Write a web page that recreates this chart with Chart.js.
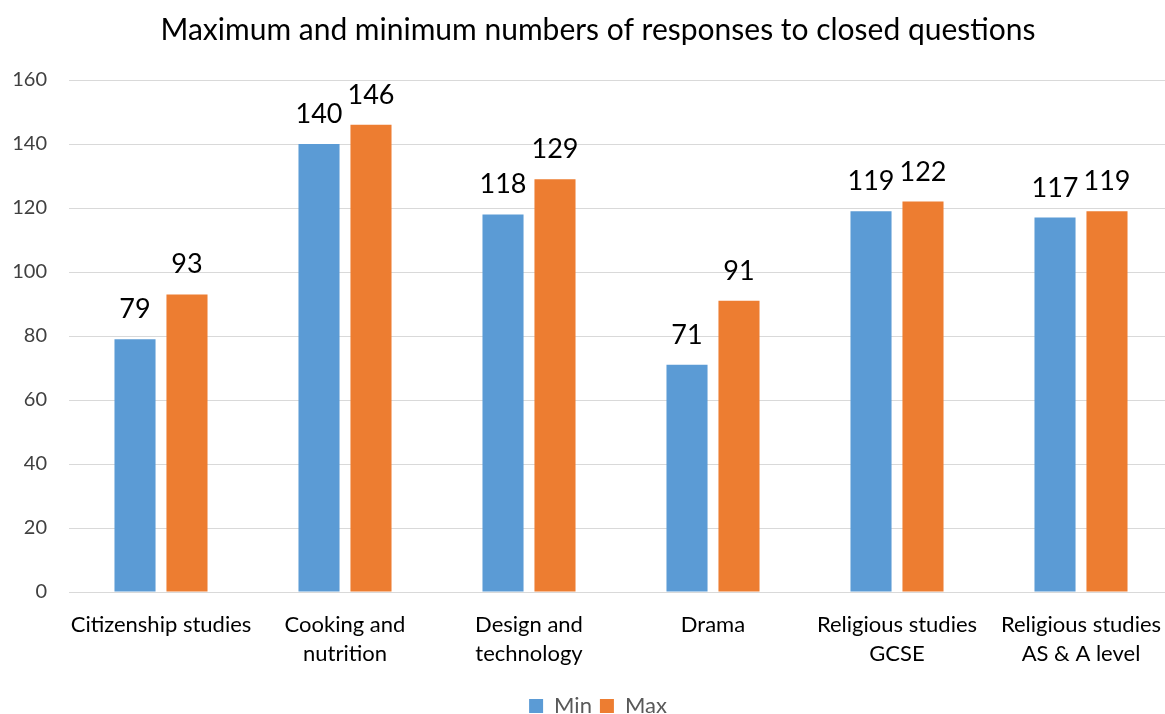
<!DOCTYPE html>
<html>
<head>
<meta charset="utf-8">
<script src="https://cdn.jsdelivr.net/npm/chart.js@4.4.0/dist/chart.umd.min.js"></script>
<style>
  html, body { margin: 0; padding: 0; background: #fff; overflow: hidden; }
  #wrap { position: relative; width: 1196px; height: 727px; }
</style>
</head>
<body>
<div id="wrap"><canvas id="chart"></canvas></div>
<script>
const subjects = [
    ["Citizenship studies"],
    ["Cooking and", "nutrition"],
    ["Design and", "technology"],
    ["Drama"],
    ["Religious studies", "GCSE"],
    ["Religious studies", "AS & A level"]
];
const minValues = [79, 140, 118, 71, 119, 117];
const maxValues = [93, 146, 129, 91, 122, 119];
const yTicks = [0, 20, 40, 60, 80, 100, 120, 140, 160];

const FONT = "Lato, 'Open Sans', sans-serif";

// draws the value above each bar
const barLabels = {
    id: "barLabels",
    afterDatasetsDraw(chart) {
        const ctx = chart.ctx;
        ctx.save();
        ctx.font = "27px " + FONT;
        ctx.fillStyle = "#000";
        ctx.textAlign = "center";
        ctx.textBaseline = "alphabetic";
        chart.data.datasets.forEach((ds, i) => {
            chart.getDatasetMeta(i).data.forEach((bar, j) => {
                ctx.fillText(ds.data[j], bar.x, bar.y - 21);
            });
        });
        ctx.restore();
    }
};

new Chart(document.getElementById("chart"), {
    type: "bar",
    data: {
        labels: subjects,
        datasets: [
            { label: "Min", data: minValues, backgroundColor: "#5B9BD5", barPercentage: 0.79, categoryPercentage: 0.565 },
            { label: "Max", data: maxValues, backgroundColor: "#ED7D31", barPercentage: 0.79, categoryPercentage: 0.565 }
        ]
    },
    options: {
        responsive: true,
        maintainAspectRatio: false,
        animation: false,
        layout: { padding: 0 },
        plugins: {
            title: {
                display: true,
                text: "Maximum and minimum numbers of responses to closed questions",
                font: { family: FONT, size: 30, weight: "normal" },
                color: "#000",
                padding: { top: 12, bottom: 32 }
            },
            legend: {
                position: "bottom",
                labels: {
                    font: { family: FONT, size: 22 },
                    color: "#595959",
                    boxWidth: 14,
                    boxHeight: 14,
                    padding: 8
                }
            },
            tooltip: { enabled: false }
        },
        scales: {
            x: {
                grid: { display: false },
                border: { color: "#d9d9d9" },
                afterFit: axis => { axis.height = 95; },
                ticks: {
                    font: { family: FONT, size: 22, lineHeight: 1.32 },
                    color: "#000",
                    padding: 10,
                    maxRotation: 0,
                    autoSkip: false
                }
            },
            y: {
                min: 0,
                max: 160,
                afterBuildTicks: axis => { axis.ticks = yTicks.map(v => ({ value: v })); },
                afterFit: axis => { axis.width = 69; },
                grid: { color: "#d9d9d9", drawTicks: false },
                border: { display: false },
                ticks: {
                    font: { family: FONT, size: 20 },
                    color: "#404040",
                    padding: 22
                }
            },
            // empty right-hand strip so the plot ends where the reference does
            y2: {
                position: "right",
                grid: { display: false },
                border: { display: false },
                ticks: { display: false },
                afterFit: axis => { axis.width = 23; }
            }
        }
    },
    plugins: [barLabels]
});
</script>
</body>
</html>
